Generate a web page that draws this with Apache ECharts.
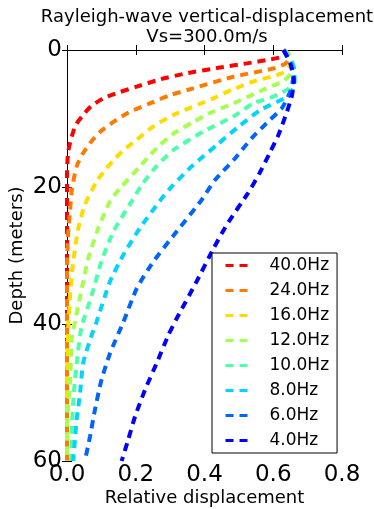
<!DOCTYPE html>
<html>
<head>
<meta charset="utf-8">
<script src="https://cdn.jsdelivr.net/npm/echarts@6/dist/echarts.min.js"></script>
<style>
html, body { margin: 0; padding: 0; background: #fff; }
#chart { width: 374px; height: 509px; }
</style>
</head>
<body>
<div id="chart"></div>
<script>
// frequencies shown in the legend, top to bottom
var freqNames = ["40.0Hz", "24.0Hz", "16.0Hz", "12.0Hz", "10.0Hz", "8.0Hz", "6.0Hz", "4.0Hz"];
var freqColors = ["#ff0000", "#ff7a00", "#ffdc00", "#a4ff4f", "#4fffa8", "#00d4ff", "#0064ff", "#0000ff"];

// [relative displacement, depth (m)]
var hz40 = [[0.63, 0], [0.64, 0.5], [0.625, 1.0], [0.59, 1.4], [0.523, 1.95], [0.44, 2.6], [0.348, 3.4], [0.27, 4.3],
    [0.203, 5.35], [0.15, 6.2], [0.106, 7.05], [0.07, 8.2], [0.047, 9.5], [0.025, 11], [0.01, 13.3], [0.003, 15],
    [0, 18], [0, 60]];
var hz24 = [[0.63, 0], [0.645, 0.6], [0.645, 1.3], [0.635, 2], [0.6, 2.7], [0.484, 3.9], [0.367, 5.6], [0.30, 6.6],
    [0.241, 7.8], [0.18, 9.1], [0.135, 10.5], [0.095, 12], [0.067, 13.6], [0.045, 15.2], [0.028, 17], [0.014, 20.4],
    [0.009, 23.4], [0.003, 27], [0, 32], [0, 60]];
var hz16 = [[0.63, 0], [0.648, 0.8], [0.652, 1.7], [0.645, 2.6], [0.62, 3.5], [0.542, 4.6], [0.48, 5.8], [0.426, 7.05],
    [0.309, 9.5], [0.25, 11.2], [0.203, 13.1], [0.165, 14.6], [0.135, 16.1], [0.11, 17.6], [0.086, 19.2], [0.052, 22.6],
    [0.033, 26], [0.018, 30.9], [0.009, 35.8], [0.004, 40], [0.001, 45], [0, 50], [0, 60]];
var hz12 = [[0.63, 0], [0.65, 1], [0.657, 2.2], [0.652, 3.4], [0.63, 4.5], [0.571, 5.8], [0.484, 7.8], [0.42, 9.1],
    [0.367, 10.5], [0.31, 12.2], [0.27, 13.9], [0.24, 15.4], [0.212, 17], [0.154, 20.2], [0.125, 22.1], [0.091, 26],
    [0.062, 30.4], [0.043, 34.8], [0.023, 39.7], [0.014, 42], [0.009, 48.2], [0.003, 52], [0, 55], [0, 60]];
var hz10 = [[0.63, 0], [0.65, 1.2], [0.66, 2.6], [0.66, 4], [0.645, 5.6], [0.6, 6.8], [0.542, 7.8], [0.484, 9.7],
    [0.397, 11.9], [0.309, 14.6], [0.26, 17], [0.22, 19.5], [0.188, 22.1], [0.135, 26.5], [0.1, 30.9], [0.072, 35.8],
    [0.042, 40.5], [0.03, 45], [0.02, 50], [0.014, 55], [0.012, 60]];
var hz8 = [[0.63, 0], [0.65, 1.5], [0.662, 3], [0.662, 5], [0.64, 6.8], [0.561, 8.8], [0.494, 11.4], [0.435, 13.9],
    [0.367, 16.8], [0.309, 19.7], [0.275, 21.7], [0.212, 26], [0.164, 29.9], [0.125, 33.8], [0.086, 39.7], [0.072, 41.6],
    [0.047, 45.7], [0.038, 50.1], [0.028, 54], [0.018, 60]];
var hz6 = [[0.63, 0], [0.65, 2], [0.658, 4], [0.65, 6], [0.625, 8.5], [0.58, 10.7], [0.537, 12.9], [0.484, 16.1],
    [0.43, 19], [0.39, 22], [0.319, 26.5], [0.251, 30.9], [0.203, 34.8], [0.164, 39.7], [0.125, 44.3], [0.1, 48.2],
    [0.081, 52.6], [0.067, 56.4], [0.052, 60]];
var hz4 = [[0.63, 0], [0.65, 2], [0.66, 4.4], [0.655, 6.5], [0.64, 9], [0.615, 12.4], [0.59, 15], [0.56, 18],
    [0.525, 21], [0.465, 25.5], [0.426, 29], [0.377, 33.8], [0.319, 39.2], [0.295, 41.6], [0.261, 45.7], [0.227, 49.6],
    [0.198, 53.5], [0.178, 56.9], [0.159, 60]];
var curves = [hz40, hz24, hz16, hz12, hz10, hz8, hz6, hz4];

var xTicks = [0, 0.2, 0.4, 0.6, 0.8];
var yTicks = [0, 20, 40, 60];

var font = "DejaVu Sans";

function makeSeries() {
    var list = [];
    for (var i = 0; i < curves.length; i++) {
        list.push({
            name: freqNames[i],
            type: "line",
            data: curves[i],
            symbol: "none",
            smooth: 0.2,
            clip: true,
            lineStyle: { color: freqColors[i], width: 4, type: [8, 6] },
            itemStyle: { color: freqColors[i] }
        });
    }
    return list;
}

var tick = { show: true, inside: true, length: 5, lineStyle: { color: "#000", width: 1 } };
var line = { show: true, lineStyle: { color: "#000", width: 1 } };

var option = {
    animation: false,
    backgroundColor: "#fff",
    title: {
        text: "Rayleigh-wave vertical-displacement\nVs=300.0m/s",
        left: 202, top: 2,
        textAlign: "center",
        textStyle: { fontFamily: font, fontSize: 18, fontWeight: "normal", color: "#000", lineHeight: 20 }
    },
    grid: { left: 67, right: 32, top: 50, bottom: 48, containLabel: false, outerBoundsMode: "none" },
    legend: {
        orient: "vertical",
        left: 212, top: 253,
        data: freqNames,
        backgroundColor: "#fff",
        borderColor: "#000",
        borderWidth: 1,
        borderRadius: 0,
        padding: [4, 8, 4, 12],
        itemWidth: 22,
        itemHeight: 14,
        itemGap: 8,
        itemStyle: { opacity: 0 },
        lineStyle: { width: 3, type: [8, 6] },
        textStyle: { fontFamily: font, fontSize: 17, lineHeight: 17, color: "#000", padding: [0, 0, 0, 17] }
    },
    xAxis: [{
        type: "value", min: xTicks[0], max: xTicks[xTicks.length - 1], interval: 0.2,
        name: "Relative displacement", nameLocation: "middle", nameGap: 28, nameMoveOverlap: false,
        nameTextStyle: { fontFamily: font, fontSize: 18, color: "#000" },
        axisLine: line, axisTick: tick, splitLine: { show: false },
        axisLabel: { fontFamily: font, fontSize: 23, color: "#000", margin: 3,
            formatter: function (v) { return v.toFixed(1); } }
    }, {
        type: "value", position: "top", min: xTicks[0], max: xTicks[xTicks.length - 1], interval: 0.2,
        axisLine: line, axisTick: tick, axisLabel: { show: false }, splitLine: { show: false }
    }],
    yAxis: [{
        type: "value", inverse: true, min: yTicks[0], max: yTicks[yTicks.length - 1], interval: 20,
        name: "Depth (meters)", nameLocation: "middle", nameGap: 41, nameRotate: 90, nameMoveOverlap: false,
        nameTextStyle: { fontFamily: font, fontSize: 18, color: "#000" },
        axisLine: line, axisTick: tick, splitLine: { show: false },
        axisLabel: { fontFamily: font, fontSize: 23, color: "#000", margin: 5 }
    }, {
        type: "value", position: "right", inverse: true, min: yTicks[0], max: yTicks[yTicks.length - 1], interval: 20,
        axisLine: line, axisTick: tick, axisLabel: { show: false }, splitLine: { show: false }
    }],
    series: makeSeries()
};

var myChart = echarts.init(document.getElementById("chart"), null, { renderer: "canvas" });
myChart.setOption(option);
</script>
</body>
</html>
